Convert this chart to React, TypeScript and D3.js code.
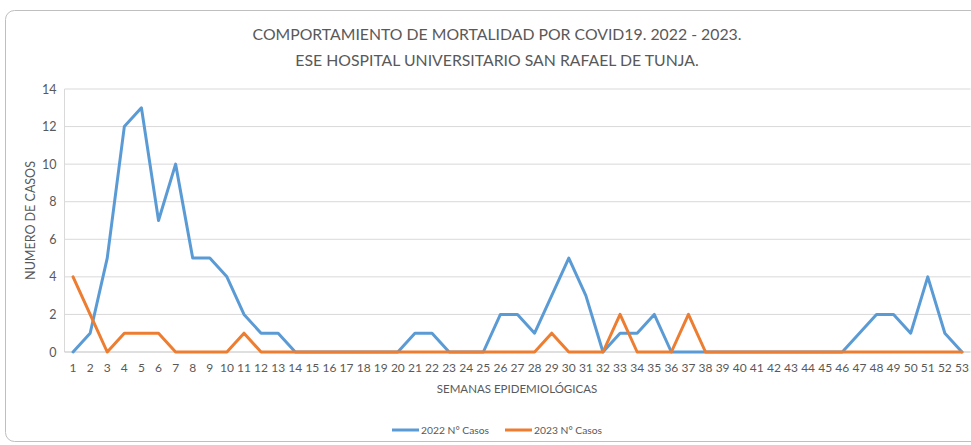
import React from "react";
import * as d3 from "d3";

const weeks: number[] = d3.range(1, 54);
const cases2022: number[] = [0,1,5,12,13,7,10,5,5,4,2,1,1,0,0,0,0,0,0,0,1,1,0,0,0,2,2,1,3,5,3,0,1,1,2,0,0,0,0,0,0,0,0,0,0,0,1,2,2,1,4,1,0];
const cases2023: number[] = [4,2,0,1,1,1,0,0,0,0,1,0,0,0,0,0,0,0,0,0,0,0,0,0,0,0,0,0,1,0,0,0,2,0,0,0,2,0,0,0,0,0,0,0,0,0,0,0,0,0,0,0,0];
const yTicks: number[] = [0,2,4,6,8,10,12,14];
const seriesNames: string[] = ["2022 N° Casos", "2023 N° Casos"];
const seriesColors: string[] = ["#5B9BD5", "#ED7D31"];
const titleLines: string[] = ["COMPORTAMIENTO DE MORTALIDAD POR COVID19. 2022 - 2023.", "ESE HOSPITAL UNIVERSITARIO SAN RAFAEL DE TUNJA."];

const W = 971, H = 445;
const left = 64.5, right = 970.5, top = 89, bottom = 352;
const font = "Lato, 'Open Sans', sans-serif";
const textColor = "#595959";

export default function App() {
  const x = d3.scaleBand<number>().domain(weeks).range([left, right]);
  const y = d3.scaleLinear().domain([0, 14]).range([bottom, top]);
  const cx = (w: number) => (x(w) as number) + x.bandwidth() / 2;
  const line = d3.line<number>().x((_, i) => cx(weeks[i])).y(d => y(d));
  const series = [cases2022, cases2023];
  return (
    <svg width={W} height={H} style={{ position: "absolute", left: 0, top: 0, background: "#fff" }} fontFamily={font}>
      <rect x={5.5} y={10.5} width={1000} height={431} rx={9} fill="#fff" stroke="#BFBFBF" strokeWidth={1} />
      {titleLines.map((t, i) => (
        <text key={i} x={497} y={40 + i * 26} textAnchor="middle" fontSize={15.8} fill={textColor}>{t}</text>
      ))}
      {yTicks.map(t => (
        <g key={t}>
          {t > 0 && <line x1={left} x2={right} y1={y(t)} y2={y(t)} stroke="#D9D9D9" strokeWidth={1} />}
          <text x={left - 8} y={y(t) + 4.5} textAnchor="end" fontSize={12.5} fill={textColor}>{t}</text>
        </g>
      ))}
      <line x1={left} x2={left} y1={top} y2={bottom} stroke="#D9D9D9" strokeWidth={1} />
      <line x1={left} x2={right} y1={bottom} y2={bottom} stroke="#BFBFBF" strokeWidth={1} />
      {weeks.map(w => (
        <text key={w} x={cx(w)} y={372} textAnchor="middle" fontSize={12} fill={textColor}>{w}</text>
      ))}
      <text x={517} y={393} textAnchor="middle" fontSize={11.5} fill={textColor}>SEMANAS EPIDEMIOLÓGICAS</text>
      <text transform={`translate(35,${(top + bottom) / 2}) rotate(-90)`} textAnchor="middle" fontSize={12.5} fill={textColor}>NUMERO DE CASOS</text>
      {series.map((s, i) => (
        <path key={i} d={line(s) || ""} fill="none" stroke={seriesColors[i]} strokeWidth={3} strokeLinejoin="round" strokeLinecap="round" />
      ))}
      {seriesNames.map((n, i) => (
        <g key={n} transform={`translate(${392 + i * 113},430)`}>
          <line x1={0} x2={27} y1={0} y2={0} stroke={seriesColors[i]} strokeWidth={3} />
          <text x={29} y={4} fontSize={10.3} fill={textColor}>{n}</text>
        </g>
      ))}
    </svg>
  );
}
